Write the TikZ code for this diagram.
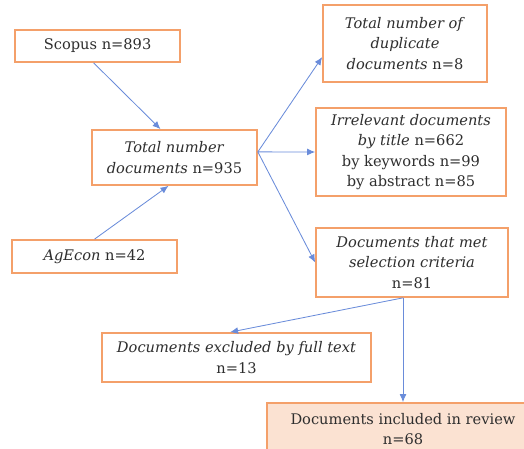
\documentclass[tikz,border=0pt]{standalone}
\usepackage{fontspec}
\setmainfont{DejaVu Serif}
\usepackage{xcolor}
\usepackage{tikz}
\usetikzlibrary{arrows.meta,positioning,calc}
\definecolor{fcorange}{HTML}{F4A06A}
\definecolor{fcpeach}{HTML}{FBE2D2}
\definecolor{fcblue}{HTML}{6A8CDA}
\definecolor{fctext}{HTML}{2E2E2E}
\tikzset{
  fcbox/.style={draw=fcorange, line width=1.2pt, fill=white, align=center, inner sep=3pt, text=fctext, font=\fontsize{10.4}{14.6}\selectfont},
  fcfinal/.style={fcbox, fill=fcpeach},
  fcline/.style={-{Latex[length=2mm,width=1.7mm]}, draw=fcblue, line width=0.6pt}
}

\begin{document}
\begin{tikzpicture}
  \useasboundingbox (0,0) rectangle (13.1,11.225);

  \node[fcbox, minimum width=4.125cm, minimum height=0.8cm] (scopus) at (2.44,10.075) {Scopus n=893};
  \node[fcbox, minimum width=4.125cm, minimum height=0.825cm] (agecon) at (2.3625,4.8125) {\textit{AgEcon} n=42};
  \node[fcbox, minimum width=4.125cm, minimum height=1.375cm] (total) at (4.3625,7.2875) {\textit{Total number}\\\textit{documents} n=935};

  \node[fcbox, minimum width=4.1cm, minimum height=1.925cm] (dupl) at (10.125,10.1375) {\textit{Total number of}\\\textit{duplicate}\\\textit{documents} n=8};
  \node[fcbox, minimum width=4.75cm, minimum height=2.2cm] (irrel) at (10.275,7.425) {\textit{Irrelevant documents}\\\textit{by title} n=662\\by keywords n=99\\by abstract n=85};
  \node[fcbox, minimum width=4.8cm, minimum height=1.725cm] (met) at (10.3,4.6625) {\textit{Documents that met}\\\textit{selection criteria}\\n=81};

  \node[fcbox, minimum width=6.725cm, minimum height=1.225cm] (excl) at (5.9125,2.2875) {\textit{Documents excluded by full text}\\n=13};
  \node[fcfinal, minimum width=6.8cm, minimum height=1.3cm] (incl) at (10.075,0.5) {Documents included in review\\n=68};

  \draw[fcline] ([xshift=-0.1cm]scopus.south) -- ([xshift=-0.35cm]total.north);
  \draw[fcline] (agecon.north) -- ([xshift=-0.15cm]total.south);
  \draw[fcline] ([yshift=0.14cm]total.east) -- ([yshift=-0.34cm]dupl.west);
  \draw[fcline] ([yshift=0.14cm]total.east) -- (irrel.west);
  \draw[fcline] ([yshift=0.14cm]total.east) -- (met.west);
  \draw[fcline] ([xshift=-0.225cm]met.south) -- ([xshift=-0.16cm]excl.north);
  \draw[fcline] ([xshift=-0.225cm]met.south) -- (incl.north);
\end{tikzpicture}
\end{document}
